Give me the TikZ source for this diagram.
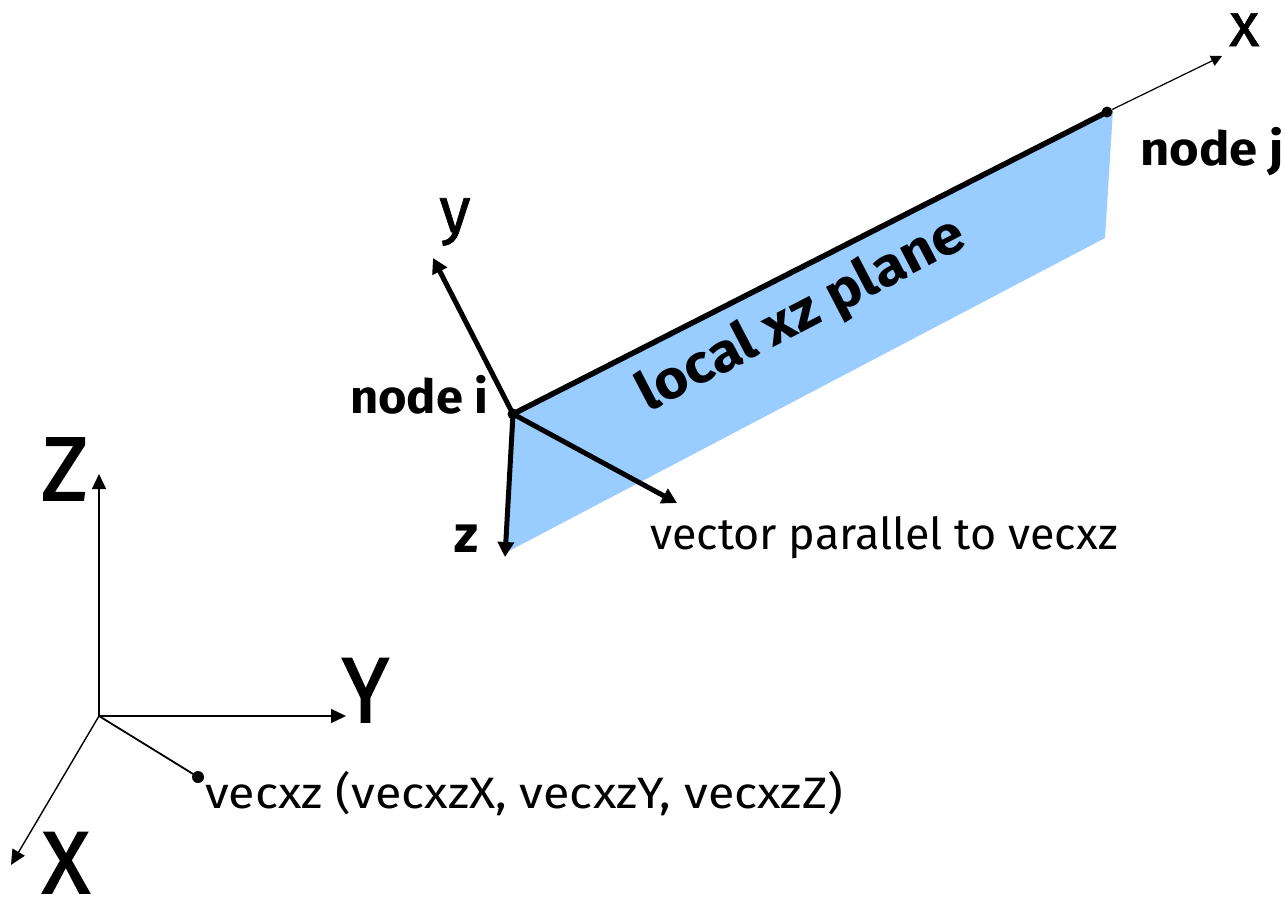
\documentclass[tikz,border=0pt]{standalone}
\usepackage{fontspec}
\setmainfont{Fira Sans}
\newfontfamily\heavyfont[FakeBold=2]{Fira Sans}
\newfontfamily\midfont[FakeBold=1]{Fira Sans}
\usetikzlibrary{arrows.meta}
\definecolor{planeblue}{RGB}{153,204,255}
\tikzset{
  thin arrow/.style={draw=black,line width=1.4pt,-{Triangle[length=15pt,width=14pt]}},
  tiny arrow/.style={draw=black,line width=1.2pt,-{Triangle[length=11pt,width=11pt]}},
  thick arrow/.style={draw=black,line width=5pt,-{Triangle[length=15pt,width=16pt]}},
  member/.style={draw=black,line width=5.5pt},
  dotmark/.style={circle,fill=black,inner sep=0pt,minimum size=11pt},
  lab/.style={inner sep=0pt,anchor=base west,text=black},
}
\begin{document}
\begin{tikzpicture}[x=1pt,y=-1pt]
\useasboundingbox (0,0) rectangle (1285,900);
\coordinate (P1) at (513,414);
\coordinate (P2) at (1113,110);
\coordinate (P3) at (1105,238);
\coordinate (P4) at (507,552);
\fill[planeblue] (P1) -- (P2) -- (P3) -- (P4) -- cycle;
\node[dotmark] (ni) at (P1) {};
\node[dotmark] (nj) at (1107,112) {};
\coordinate (xtip) at (1222,56);
\draw[tiny arrow] (nj) -- (xtip);
\draw[member] (ni.center) -- (nj.center);
\coordinate (ytip) at (433,258);
\coordinate (ztip) at (505,557);
\coordinate (vtip) at (677,503);
\draw[thick arrow] (ni.center) -- (ytip);
\draw[thick arrow] (ni.center) -- (ztip);
\draw[thick arrow] (ni.center) -- (vtip);
\coordinate (O) at (99,716);
\coordinate (Ztip) at (99,474);
\coordinate (Ytip) at (346,716);
\coordinate (Xtip) at (11,865);
\node[dotmark,minimum size=12pt] (vd) at (198,777) {};
\draw[thin arrow] (O) -- (Ztip);
\draw[thin arrow] (O) -- (Ytip);
\draw[thin arrow] (O) -- (Xtip);
\draw[line width=1.8pt] (O) -- (vd.center);
\node[lab,font=\fontsize{62}{62}\midfont] (lx) at (1229,46) {x};
\node[lab,font=\fontsize{47}{47}\selectfont\bfseries,xscale=1.08] (lnj) at (1140,165) {node j};
\node[lab,font=\fontsize{47}{47}\selectfont\bfseries,xscale=1.04] (lni) at (350,413) {node i};
\node[lab,font=\fontsize{64}{64}\midfont] (ly) at (439,232) {y};
\node[lab,font=\fontsize{52}{52}\selectfont\bfseries] (lz) at (454,552) {z};
\node[font=\fontsize{54}{54}\selectfont\bfseries,rotate=27.5,xscale=1.08,inner sep=0pt] (lp) at (802,316) {local xz plane};
\node[lab,font=\fontsize{44}{44}\selectfont,xscale=1.02] (lv) at (650,549) {vector parallel to vecxz};
\node[lab,font=\fontsize{90}{90}\heavyfont] (lZ) at (41,500) {Z};
\node[lab,font=\fontsize{92}{92}\heavyfont,xscale=0.92] (lY) at (342,722) {Y};
\node[lab,font=\fontsize{88}{88}\heavyfont] (lX) at (42,893) {X};
\node[lab,font=\fontsize{44}{44}\selectfont,xscale=1.1] (lc) at (205,808) {vecxz (vecxzX, vecxzY, vecxzZ)};
\end{tikzpicture}
\end{document}
